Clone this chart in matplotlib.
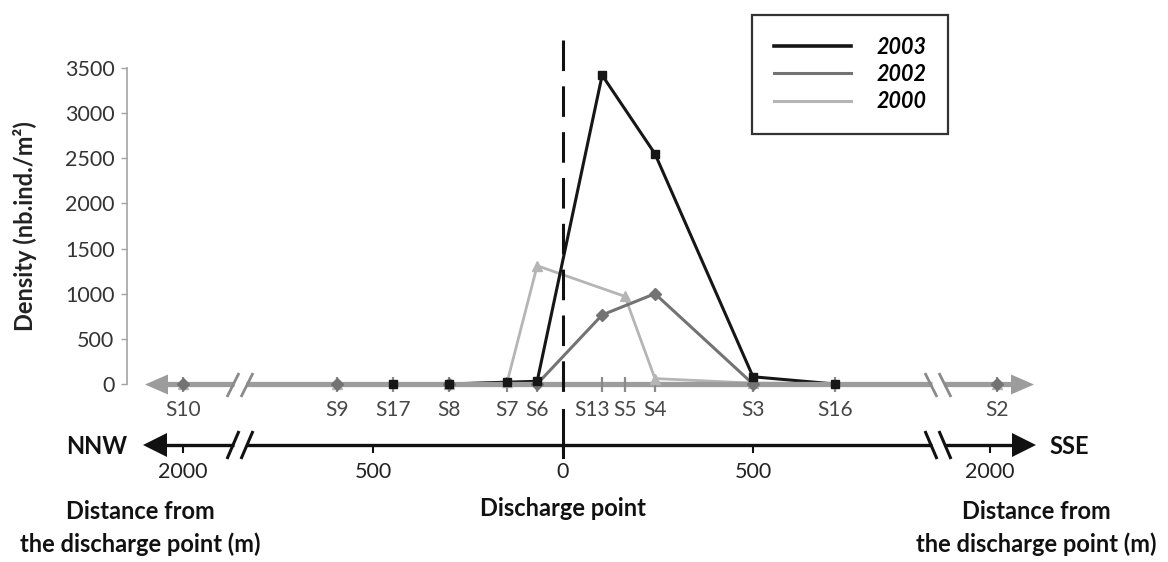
import matplotlib
matplotlib.use('Agg')
import matplotlib.pyplot as plt
from matplotlib.lines import Line2D

plt.rcParams['font.family'] = ['Lato', 'DejaVu Sans']

# ---------------- data ----------------
stations = ['S10', 'S9', 'S17', 'S8', 'S7', 'S6', 'S13', 'S5', 'S4', 'S3', 'S16', 'S2']
# position along the (broken) transect axis, metres from the discharge point
station_pos = [-1000, -595, -447, -300, -147, -68, 103, 163, 242, 500, 716, 1142]

st_2003 = ['S17', 'S8', 'S7', 'S6', 'S13', 'S4', 'S3', 'S16']
val_2003 = [0, 0, 20, 30, 3420, 2550, 80, 0]

st_2002 = ['S10', 'S9', 'S8', 'S6', 'S13', 'S4', 'S3', 'S2']
val_2002 = [0, 0, 0, 0, 765, 1000, 0, 0]

st_2000 = ['S10', 'S9', 'S8', 'S7', 'S6', 'S5', 'S4', 'S3', 'S2']
val_2000 = [0, 0, 0, 20, 1310, 970, 60, 10, 0]

dist_pos = [-1000, -500, 0, 500, 1124]
dist_labels = ['2000', '500', '0', '500', '2000']

y_ticks = [0, 500, 1000, 1500, 2000, 2500, 3000, 3500]

# ---------------- figure ----------------
W, H = 1168, 562
fig = plt.figure(figsize=(W / 100, H / 100), dpi=100)
ax = fig.add_axes([127 / W, 1 - 394 / H, (1045 - 127) / W, (394 - 30) / H])

X0, PXX = 563, 0.38
YPX = 316 / 3500


def xd(px):
    return (px - X0) / PXX


def yd(py):
    return (384 - py) / YPX


ax.set_xlim(xd(127), xd(1045))
ax.set_ylim(yd(394), yd(30))

pos = dict(zip(stations, station_pos))

C03, C02, C00 = '#161616', '#737373', '#b5b5b5'
AXC = '#9c9c9c'

series = [
    (st_2000, val_2000, C00, '^', 7, 2.0),
    (st_2002, val_2002, C02, 'D', 6, 2.2),
    (st_2003, val_2003, C03, 's', 6, 2.2),
]
for st, vals, col, mk, ms, lw in series:
    xs = [pos[s] for s in st]
    ax.plot(xs, vals, color=col, lw=lw, zorder=2, clip_on=False)
    ax.plot(xs, vals, ls='none', marker=mk, ms=ms, color=col, zorder=5, clip_on=False)

# ---- upper (station) axis line with arrows ----
ax.plot([xd(160), xd(1018)], [0, 0], color=AXC, lw=3.8, zorder=3, clip_on=False,
        solid_capstyle='butt')


def head(tip, py, d, ln, hh, col, z):
    ax.fill([xd(tip), xd(tip + d * ln), xd(tip + d * ln)],
            [yd(py), yd(py - hh), yd(py + hh)], color=col, lw=0, zorder=z, clip_on=False)


head(145, 384.5, 1, 23, 10, AXC, 3)
head(1034, 384.5, -1, 23, 10, AXC, 3)
ax.vlines(station_pos, yd(392), yd(377), color='#8a8a8a', lw=1.6, zorder=3.5, clip_on=False)


def brk(cx, py, sign, col, hh, lw):
    ax.plot([xd(cx - 6), xd(cx + 6)], [yd(py), yd(py)], color='white', lw=8,
            zorder=3.6, clip_on=False, solid_capstyle='butt')
    for off in (-7, 7):
        ax.plot([xd(cx + off - sign * 6), xd(cx + off + sign * 6)], [yd(py + hh), yd(py - hh)],
                color=col, lw=lw, zorder=3.7, clip_on=False, solid_capstyle='butt')


brk(240, 385, 1, '#8a8a8a', 12, 2.0)
brk(938, 385, -1, '#8a8a8a', 12, 2.0)

for s, p in zip(stations, station_pos):
    nudge = -10 if s == 'S13' else 0
    ax.text(p + nudge / PXX, yd(410), s, ha='center', va='center', fontsize=15,
            color='#474747', clip_on=False)

# ---- lower (distance) axis ----
ax.plot([xd(160), xd(1018)], [yd(445), yd(445)], color='#111111', lw=2.4, zorder=3,
        clip_on=False, solid_capstyle='butt')
head(143, 445, 1, 24, 12, '#111111', 3)
head(1036, 445, -1, 24, 12, '#111111', 3)
ax.vlines(dist_pos, yd(453), yd(445), color='#111111', lw=1.5, zorder=3, clip_on=False)
brk(240, 445, 1, '#111111', 14, 2.2)
brk(938, 445, -1, '#111111', 14, 2.2)
for p, lab in zip(dist_pos, dist_labels):
    ax.text(p, yd(472), lab, ha='center', va='center', fontsize=15.5, color='#222222',
            clip_on=False)

ax.text(xd(97), yd(446), 'NNW', ha='center', va='center', fontsize=17, fontweight='bold',
        color='#111111', clip_on=False)
ax.text(xd(1069), yd(446), 'SSE', ha='center', va='center', fontsize=17, fontweight='bold',
        color='#111111', clip_on=False)

# ---- dashed discharge line ----
dash_kw = dict(color='#111111', lw=2.2, dashes=(10, 5), zorder=4, clip_on=False)
ax.plot([0, 0], [yd(40), yd(396)], **dash_kw)
ax.plot([0, 0], [yd(410), yd(457)], color='#111111', lw=2.2, zorder=4, clip_on=False)

# ---- bottom titles ----
ax.text(xd(140), yd(528), 'Distance from\nthe discharge point (m)', ha='center', va='center',
        fontsize=17, fontweight='bold', linespacing=1.45, color='#111111', clip_on=False)
ax.text(xd(1036), yd(528), 'Distance from\nthe discharge point (m)', ha='center', va='center',
        fontsize=17, fontweight='bold', linespacing=1.45, color='#111111', clip_on=False)
ax.text(0, yd(508), 'Discharge point', ha='center', va='center', fontsize=17,
        fontweight='bold', color='#111111', clip_on=False)

# ---- y axis ----
for sp in ['top', 'right', 'bottom']:
    ax.spines[sp].set_visible(False)
ax.spines['left'].set_color('#a3a3a3')
ax.spines['left'].set_linewidth(1.2)
ax.spines['left'].set_bounds(0, 3500)
ax.set_yticks(y_ticks)
ax.set_yticklabels([str(v) for v in y_ticks])
ax.tick_params(axis='y', length=4, width=1, color='#a3a3a3', pad=5, labelsize=15.5,
               labelcolor='#333333')
ax.set_xticks([])
fig.text(25 / W, 1 - 226 / H, 'Density (nb.ind./m²)', rotation=90, ha='center', va='center',
         fontsize=17, fontweight='bold', color='#222222')

# ---- legend ----
handles = [Line2D([], [], color=C03, lw=2.6), Line2D([], [], color=C02, lw=2.2),
           Line2D([], [], color=C00, lw=2.2)]
leg = ax.legend(handles, ['2003', '2002', '2000'], loc='upper left',
                bbox_to_anchor=(752 / W, 1 - 15 / H), bbox_transform=fig.transFigure,
                borderaxespad=0, frameon=True, fancybox=False, edgecolor='#333333',
                framealpha=1, borderpad=1.0, handlelength=3.6, handletextpad=1.2,
                labelspacing=0.3,
                prop=dict(family='Lato', weight='bold', style='italic', size=15.5))
leg.get_frame().set_linewidth(1.6)

fig.savefig('out.png', dpi=100)
